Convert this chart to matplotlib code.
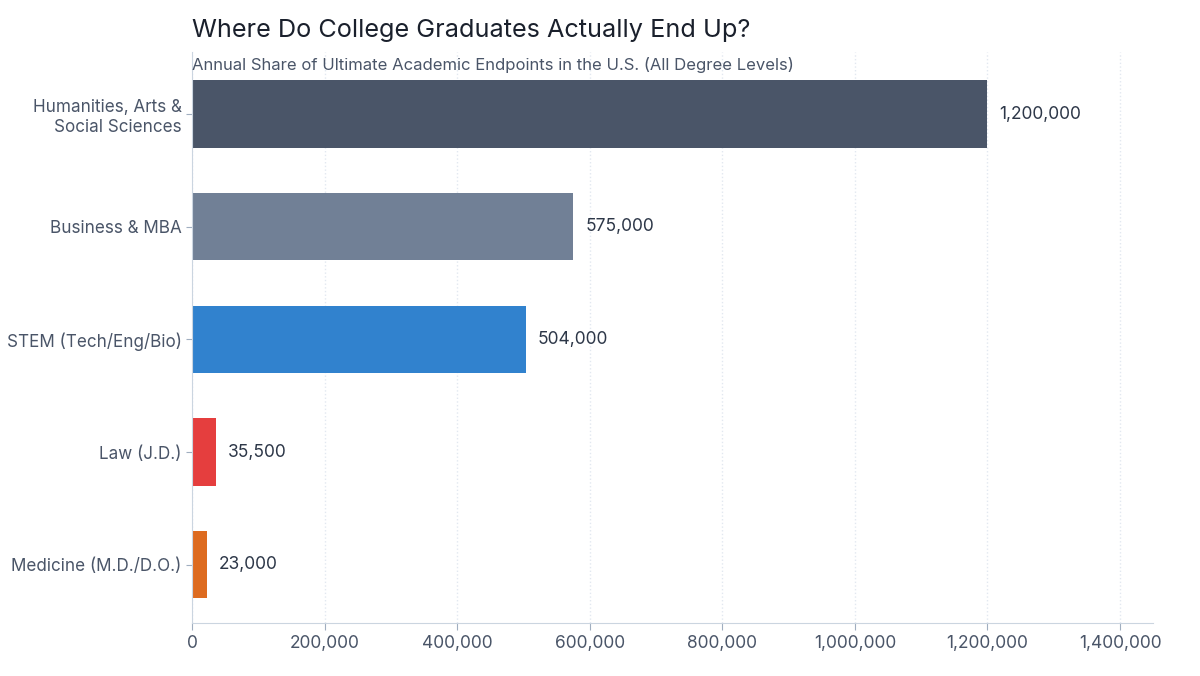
import matplotlib.pyplot as plt
from matplotlib.ticker import FuncFormatter

categories = ["Humanities, Arts &\nSocial Sciences", "Business & MBA", "STEM (Tech/Eng/Bio)",
              "Law (J.D.)", "Medicine (M.D./D.O.)"]
values = [1200000, 575000, 504000, 35500, 23000]
bar_colors = ["#4a5568", "#718096", "#3182ce", "#e53e3e", "#dd6b20"]
xticks = [0, 200000, 400000, 600000, 800000, 1000000, 1200000, 1400000]

plt.rcParams['font.family'] = ['Inter', 'DejaVu Sans']
text_color = "#4a5568"

fig = plt.figure(figsize=(12, 6.76), dpi=100)
ax = fig.add_axes([0.16, 0.078, 0.801, 0.845])

ypos = list(range(len(categories)))
ax.barh(ypos, values, height=0.6, color=bar_colors)

for y, v in zip(ypos, values):
    ax.text(v + 18000, y, f"{v:,}", va='center', ha='left', fontsize=12.5, color="#2d3748")

ax.set_yticks(ypos)
ax.set_yticklabels(categories, fontsize=12.3, color=text_color)
ax.set_ylim(len(categories) - 0.48, -0.55)

ax.set_xticks(xticks)
ax.xaxis.set_major_formatter(FuncFormatter(lambda x, p: f"{int(x):,}"))
ax.set_xlim(0, 1450000)
ax.tick_params(axis='x', labelsize=12.5, labelcolor=text_color, color="#a0aec0", length=5)
ax.tick_params(axis='y', color="#a0aec0", length=4)

ax.grid(axis='x', color='#e2e8f0', linestyle=':', linewidth=1)
ax.set_axisbelow(True)

for s in ['top', 'right']:
    ax.spines[s].set_visible(False)
ax.spines['left'].set_color("#cbd5e0")
ax.spines['bottom'].set_color("#cbd5e0")

fig.text(0.16, 0.955, "Where Do College Graduates Actually End Up?", fontsize=18.2,
         color="#1a202c", va='center', ha='left')
ax.text(0, 0.992, "Annual Share of Ultimate Academic Endpoints in the U.S. (All Degree Levels)",
        transform=ax.transAxes, fontsize=12, color=text_color, va='top', ha='left')

fig.savefig("out.png", dpi=100)
